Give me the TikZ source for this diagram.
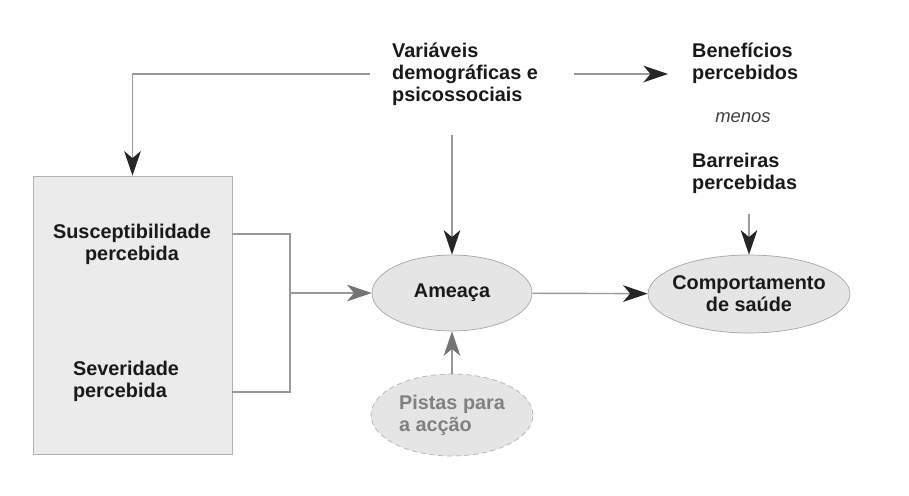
\documentclass[tikz,border=0pt]{standalone}
\usepackage{fontspec}
\setmainfont{Liberation Sans}
\usetikzlibrary{shapes.geometric, arrows.meta}

\begin{document}
\begin{tikzpicture}[x=0.02cm, y=-0.02cm,
		every node/.style={font=\bfseries\fontsize{11.3}{12.4}\selectfont, text=black!90},
		panel/.style={draw=black!30, fill=black!8, inner sep=0pt},
		oval/.style={ellipse, draw=black!35, fill=black!10, inner sep=0pt},
		link/.style={draw=black!40, line width=0.8pt},
		tipdark/.style={-{Stealth[length=14pt, width=9.5pt, inset=4pt, color=black!85]}},
		tipgray/.style={-{Stealth[length=14pt, width=9.5pt, inset=4pt, color=black!55]}}]
	% canvas, 1 unit = 1 px
	\useasboundingbox (0,0) rectangle (909,496);
	% left panel
	\node[panel, minimum width=3.98cm, minimum height=5.56cm] (percep) at (132.5,315) {};
	\node[align=center] (susc) at (132,244) {Susceptibilidade\\percebida};
	\node[align=left] (sev) at (126,381) {Severidade\\percebida};
	% ovals
	\node[oval, minimum width=3.2cm, minimum height=1.52cm] (ameaca) at (452,293) {Ameaça};
	\node[oval, densely dashed, draw=black!30, text=black!50, align=left,
		minimum width=3.24cm, minimum height=1.64cm] (pistas) at (452,415) {Pistas para\\a acção};
	\node[oval, align=center, inner xsep=-3pt, minimum width=4.04cm, minimum height=1.56cm] (comp) at (749,294) {Comportamento\\de saúde};
	% free labels
	\node[align=left, anchor=west] (var) at (386,74) {Variáveis\\demográficas e\\psicossociais};
	\node[align=left, anchor=west] (ben) at (686,63) {Benefícios\\percebidos};
	\node[font=\itshape\fontsize{10.5}{12}\selectfont, text=black!75] (menos) at (743,118) {menos};
	\node[align=left, anchor=west] (barr) at (686,173) {Barreiras\\percebidas};
	% bracket
	\coordinate (bt) at (290,234);
	\coordinate (bm) at (290,293);
	\coordinate (bb) at (290,392);
	% edges
	\draw[link, tipdark, shorten <=0.6cm, shorten >=0.36cm] (var.east) -- (var.east -| ben.west);
	\draw[link, tipdark, shorten <=0.32cm] (var.west) -| (percep.north);
	\draw[link, tipdark, shorten <=0.48cm] (ameaca.north |- var.south) -- (ameaca.north);
	\draw[link, tipdark, shorten <=0.3cm] (comp.north |- barr.south) -- (comp.north);
	\draw[link] (percep.east |- bt) -- (bt) -- (bb) -- (percep.east |- bb);
	\draw[link, tipgray] (bm) -- (ameaca);
	\draw[link, tipgray] (pistas) -- (ameaca);
	\draw[link, tipdark] (ameaca) -- (comp);
\end{tikzpicture}
\end{document}
